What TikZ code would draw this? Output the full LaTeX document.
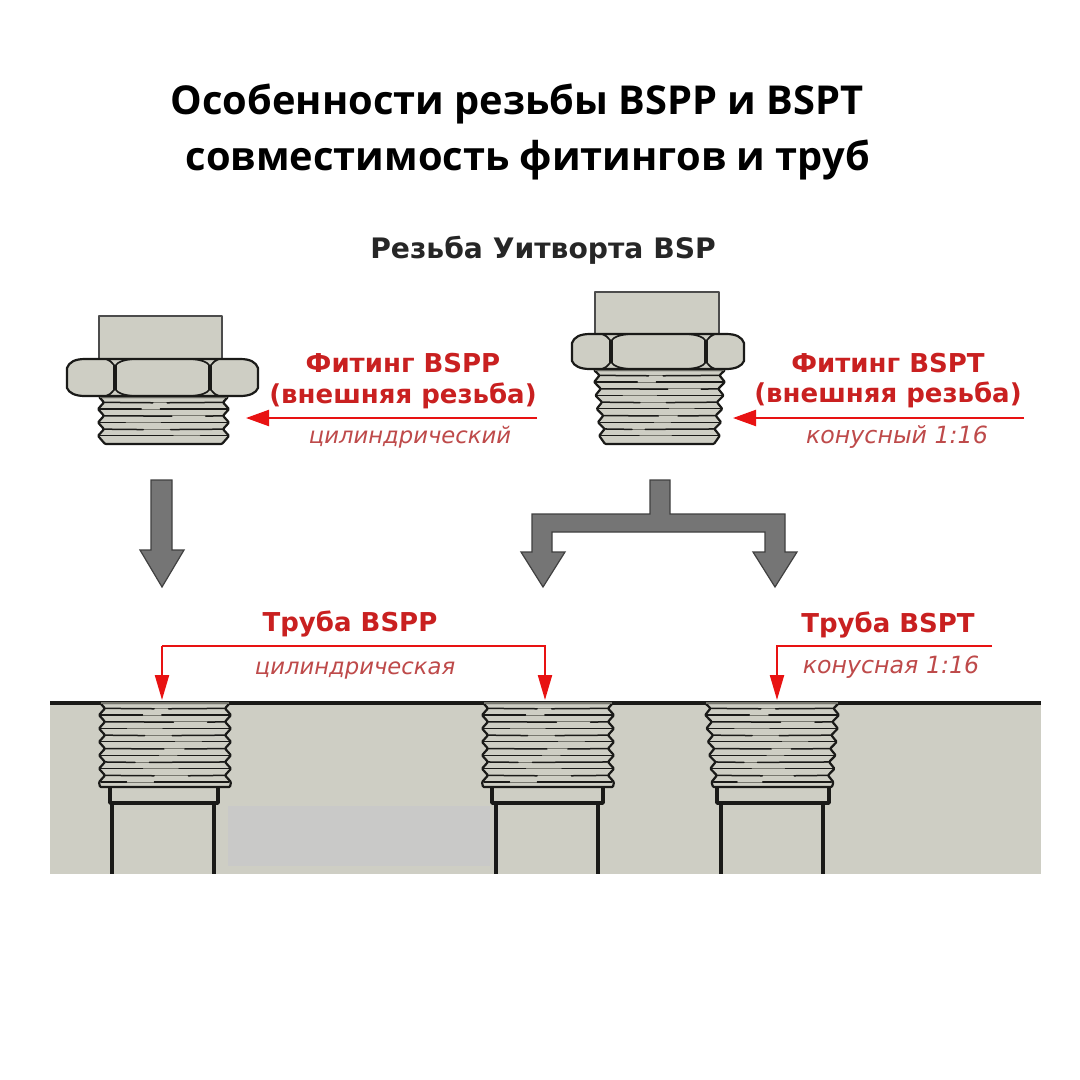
\documentclass[tikz,border=0pt]{standalone}
\usepackage{fontspec}
\setmainfont{Open Sans}
\newfontfamily\labelfont{DejaVu Sans}
\usetikzlibrary{arrows.meta}
\definecolor{bodygrey}{HTML}{CECEC4}
\definecolor{patchgrey}{HTML}{C9C9C8}
\definecolor{arrowgrey}{HTML}{757575}
\definecolor{inkline}{HTML}{1A1A18}
\definecolor{midline}{HTML}{77776F}
\definecolor{redmain}{HTML}{E81212}
\definecolor{redlabel}{HTML}{C92020}
\definecolor{redsoft}{HTML}{BE4A4A}
\tikzset{
  metal/.style={fill=bodygrey,draw=inkline,line width=2.2pt,line join=round},
  capbox/.style={fill=bodygrey,draw=black!70,line width=1.6pt,line join=round},
  facet/.style={draw=inkline,line width=1.7pt,line join=round},
  threadedge/.style={fill=bodygrey,draw=inkline,line width=2.2pt,rounded corners=1pt,line join=round},
  rootdark/.style={draw=inkline,line width=1.5pt,line cap=round},
  rootsoft/.style={draw=midline,line width=.9pt},
  topedge/.style={draw=midline,line width=1.6pt},
  wall/.style={draw=inkline,line width=3.2pt},
  borewall/.style={draw=inkline,line width=3.4pt,line join=round},
  bigarrow/.style={fill=arrowgrey,draw=black!75,line width=1.2pt,line join=miter},
  titletext/.style={font=\fontsize{39.8}{46}\selectfont\bfseries,anchor=center,inner sep=0pt},
  headtext/.style={font=\labelfont\fontsize{28.2}{32}\selectfont\bfseries,text=black!85,anchor=center,inner sep=0pt},
  redtext/.style={font=\labelfont\fontsize{26}{30}\selectfont\bfseries,text=redlabel,anchor=center,inner sep=0pt},
  softtext/.style={font=\labelfont\fontsize{22.7}{26}\selectfont\itshape,text=redsoft,anchor=center,inner sep=0pt},
  softwide/.style={font=\labelfont\fontsize{23.7}{26}\selectfont\itshape,text=redsoft,anchor=center,inner sep=0pt},
  redline/.style={draw=redmain,line width=2.2pt},
  redtip/.style={-{Triangle[length=25pt,width=14pt]}},
  redtipbig/.style={-{Triangle[length=23pt,width=16pt]}},
}
% #1 y top, #2 y bottom, #3 left top, #4 left bottom, #5 right top, #6 right bottom,
% #7 number of crests, #8 pitch, #9 inset of the last corner
\newcommand{\threadbody}[9]{%
  \pgfmathtruncatemacro{\tlast}{#7-1}
  \pgfmathsetmacro{\tspan}{#2-#1}
  \draw[threadedge] (#3+1,#1)
    \foreach \k in {0,...,\tlast}{
      -- ({#3+(#4-#3)*(\k+.4)*#8/\tspan+6},{#1+(\k+.4)*#8})
      -- ({#3+(#4-#3)*(\k+.9)*#8/\tspan},{#1+(\k+.9)*#8})
    }
    -- (#4+#9,#2) -- (#6-#9,#2)
    \foreach \k in {\tlast,...,0}{
      -- ({#5+(#6-#5)*(\k+.9)*#8/\tspan},{#1+(\k+.9)*#8})
      -- ({#5+(#6-#5)*(\k+.4)*#8/\tspan-6},{#1+(\k+.4)*#8})
    }
    -- (#5-1,#1) -- cycle;
  \draw[topedge] (#3+2,#1) -- (#5-2,#1);
  \foreach \k in {0,...,\tlast}{
    % line at the root of the thread
    \pgfmathsetmacro{\ya}{#1+(\k+.4)*#8}
    \pgfmathsetmacro{\xa}{#3+(#4-#3)*(\k+.4)*#8/\tspan+6}
    \pgfmathsetmacro{\xb}{#5+(#6-#5)*(\k+.4)*#8/\tspan-6}
    \pgfmathsetmacro{\fa}{.25+.4*mod(\k*7+2,5)/5}
    \pgfmathsetmacro{\fb}{\fa+.12+.22*mod(\k*3,4)/4}
    \draw[rootsoft] (\xa,\ya) -- (\xb,\ya);
    \draw[rootdark] (\xa,\ya) -- ({\xa+(\xb-\xa)*\fa},\ya+.4);
    \draw[rootdark] ({\xa+(\xb-\xa)*\fb},\ya+.4) -- (\xb,\ya);
    % line at the crest of the thread
    \pgfmathsetmacro{\yb}{#1+(\k+.9)*#8}
    \pgfmathsetmacro{\xc}{#3+(#4-#3)*(\k+.9)*#8/\tspan+2}
    \pgfmathsetmacro{\xd}{#5+(#6-#5)*(\k+.9)*#8/\tspan-2}
    \pgfmathsetmacro{\fc}{.2+.5*mod(\k*3+1,4)/4}
    \pgfmathsetmacro{\fd}{\fc+.15+.2*mod(\k*5,3)/3}
    \draw[rootsoft] (\xc,\yb) -- (\xd,\yb);
    \draw[rootdark,line width=1.2pt] (\xc,\yb) -- ({\xc+(\xd-\xc)*\fc},\yb);
    \draw[rootdark,line width=1.2pt] ({\xc+(\xd-\xc)*\fd},\yb) -- (\xd,\yb);
  }
}
% hex nut: #1 left, #2 right, #3 y top, #4 y bottom, #5 inner left, #6 inner right
\newcommand{\hexnut}[6]{%
  \draw[metal] (#1,#3+9) .. controls (#1+2,#3+3) and (#1+8,#3) .. (#1+18,#3)
     -- (#2-18,#3) .. controls (#2-8,#3) and (#2-2,#3+3) .. (#2,#3+9)
     -- (#2,#4-8) .. controls (#2-2,#4-3) and (#2-8,#4) .. (#2-18,#4)
     -- (#1+18,#4) .. controls (#1+8,#4) and (#1+2,#4-3) .. (#1,#4-8) -- cycle;
  % side facets
  \draw[facet] (#5-9,#3) .. controls (#5-6,#3+1) and (#5-3,#3+3) .. (#5-1,#3+6)
     -- (#5-1,#4-6) .. controls (#5-3,#4-3) and (#5-6,#4-1) .. (#5-9,#4);
  \draw[facet] (#6+9,#3) .. controls (#6+6,#3+1) and (#6+3,#3+3) .. (#6+1,#3+6)
     -- (#6+1,#4-6) .. controls (#6+3,#4-3) and (#6+6,#4-1) .. (#6+9,#4);
  % central facet
  \draw[facet] (#5+1,#3+6) .. controls (#5+3,#3+3) and (#5+8,#3+1) .. (#5+18,#3)
     -- (#6-18,#3) .. controls (#6-8,#3+1) and (#6-3,#3+3) .. (#6-1,#3+6)
     -- (#6-1,#4-6) .. controls (#6-3,#4-3) and (#6-8,#4-1) .. (#6-18,#4)
     -- (#5+18,#4) .. controls (#5+8,#4-1) and (#5+3,#4-3) .. (#5+1,#4-6) -- cycle;
}
% pipe bore: #1 neck left, #2 neck right, #3 pipe left, #4 pipe right, #5 y top of neck
\newcommand{\pipebore}[5]{%
  \draw[borewall] (#1,#5) -- (#1,803) -- (#2,803) -- (#2,#5);
  \draw[borewall] (#3,803) -- (#3,874);
  \draw[borewall] (#4,803) -- (#4,874);
}
\begin{document}
\begin{tikzpicture}[x=1pt,y=-1pt]
\useasboundingbox (0,0) rectangle (1080,1080);
\fill[white] (0,0) rectangle (1080,1080);

\node[titletext] (title1) at (517,104) {Особенности резьбы BSPP и BSPT};
\node[titletext] (title2) at (528,160) {совместимость фитингов и труб};
\node[headtext] (sub) at (543,250) {Резьба Уитворта BSP};

% fitting BSPP
\draw[capbox] (99,316) rectangle (222,359);
\threadbody{397}{444}{98}{98}{229}{229}{3}{13.4}{7}
\hexnut{67}{258}{359}{396}{115}{210}

% fitting BSPT
\draw[capbox] (595,292) rectangle (719,334);
\threadbody{370}{444}{593}{600}{726}{719}{5}{13.4}{5}
\hexnut{572}{744}{334}{369}{611}{706}

% base plate
\fill[bodygrey] (50,704) rectangle (1041,874);
\fill[patchgrey] (228,806) rectangle (490,866);
\draw[wall] (50,703) -- (1041,703);

\pipebore{110}{218}{112}{214}{787}
\threadbody{703}{787}{99}{99}{231}{231}{6}{13.4}{1}
\pipebore{492}{603}{496}{598}{787}
\threadbody{703}{787}{482}{482}{614}{614}{6}{13.4}{1}
\pipebore{717}{829}{721}{823}{787}
\threadbody{703}{787}{704}{712}{840}{833}{6}{13.4}{1}

% grey arrows
\draw[bigarrow] (151,480) -- (172,480) -- (172,550) -- (184,550) -- (162,587) -- (140,550) -- (151,550) -- cycle;
\draw[bigarrow] (650,480) -- (670,480) -- (670,514) -- (785,514) -- (785,552) -- (797,552) -- (775,587) -- (753,552) -- (765,552) -- (765,532) -- (552,532) -- (552,552) -- (565,552) -- (543,587) -- (521,552) -- (532,552) -- (532,514) -- (650,514) -- cycle;

% red labels
\node[redtext] (fit1a) at (403,363) {Фитинг BSPP};
\node[redtext] (fit1b) at (403,396) {(внешняя резьба)};
\node[softtext] (fit1c) at (410,437) {цилиндрический};
\node[redtext] (fit2a) at (888,363) {Фитинг BSPT};
\node[redtext] (fit2b) at (888,395) {(внешняя резьба)};
\node[softwide] (fit2c) at (897,437) {конусный 1:16};
\node[redtext] (pipe1a) at (350,624) {Труба BSPP};
\node[softtext] (pipe1b) at (355,670) {цилиндрическая};
\node[redtext] (pipe2a) at (888,625) {Труба BSPT};
\node[softwide] (pipe2b) at (891,667) {конусная 1:16};

% red connectors
\coordinate (a1s) at (537,418); \coordinate (a1e) at (246,418);
\coordinate (a2s) at (1024,418); \coordinate (a2e) at (733,418);
\coordinate (p1) at (162,700); \coordinate (p2) at (545,700);
\coordinate (p3) at (777,700); \coordinate (p4) at (992,646);
\draw[redline,redtipbig] (a1s) -- (a1e);
\draw[redline,redtipbig] (a2s) -- (a2e);
\draw[redline,redtip] (p1 |- p4) -- (p1);
\draw[redline,redtip] (p1 |- p4) -- (p2 |- p4) -- (p2);
\draw[redline,redtip] (p4) -- (p3 |- p4) -- (p3);
\end{tikzpicture}
\end{document}
